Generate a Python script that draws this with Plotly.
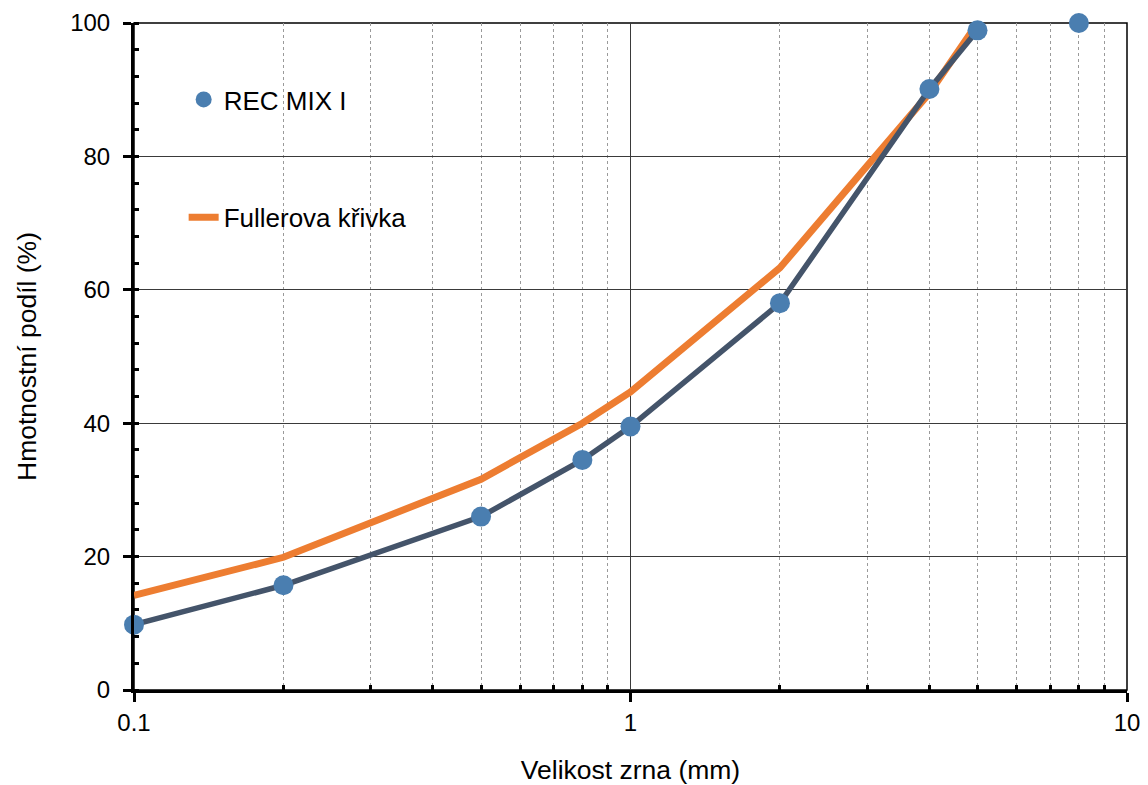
import plotly.graph_objects as go

# grain sizes (mm)
sizes_mix = [0.1, 0.2, 0.5, 0.8, 1, 2, 4, 5, 8]
passing_mix = [9.8, 15.7, 26.0, 34.5, 39.5, 58.0, 90.1, 98.9, 100.0]

sizes_fuller = [0.1, 0.2, 0.5, 0.8, 1, 2, 4, 5]
passing_fuller = [14.2, 19.9, 31.6, 40.0, 44.7, 63.3, 89.5, 100.0]

n_line = 8  # REC MIX I line is drawn up to 5 mm only

FONT = "Liberation Sans, Arial, sans-serif"

fig = go.Figure()

fig.add_trace(go.Scatter(
    x=sizes_fuller, y=passing_fuller, mode="lines",
    name="Fullerova křivka", line=dict(color="#ED7D31", width=7),
    legendgroup="b", legendrank=2,
))
fig.add_trace(go.Scatter(
    x=sizes_mix[:n_line], y=passing_mix[:n_line], mode="lines",
    line=dict(color="#44546A", width=5.5), showlegend=False,
))
fig.add_trace(go.Scatter(
    x=sizes_mix, y=passing_mix, mode="markers", name="REC MIX I",
    marker=dict(color="#4A7EB0", size=20), legendgroup="a", legendrank=1,
    cliponaxis=False,
))

fig.update_layout(
    width=1140, height=777,
    margin=dict(l=126, r=21, t=15, b=95, autoexpand=False),
    paper_bgcolor="white", plot_bgcolor="white",
    font=dict(family=FONT, size=24, color="black"),
    showlegend=True,
    legend=dict(
        x=0.05, y=0.9205, xanchor="left", yanchor="top",
        bgcolor="rgba(0,0,0,0)", borderwidth=0,
        font=dict(size=26, family=FONT, color="black"),
        tracegroupgap=81,
    ),
    shapes=[
        dict(type="rect", xref="paper", yref="paper",
             x0=(152 - 134) / 993, x1=(428 - 134) / 993,
             y0=(690 - 280) / 667, y1=(690 - 39) / 667,
             fillcolor="white", line=dict(width=0), layer="between"),
        dict(type="rect", xref="paper", yref="paper", x0=0, x1=1, y0=0, y1=1,
             line=dict(color="black", width=1.5), layer="between"),
    ],
)

fig.update_xaxes(
    type="log", range=[-1, 1], automargin=False,
    tickvals=[0.1, 1, 10], ticktext=["0.1", "1", "10"],
    showline=True, linecolor="black", linewidth=3,
    ticks="outside", ticklen=9, tickwidth=3, tickcolor="black",
    showgrid=True, gridcolor="#3a3a3a", gridwidth=1,
    zeroline=False,
    minor=dict(tickvals=[0.2, 0.3, 0.4, 0.5, 0.6, 0.7, 0.8, 0.9,
                         2, 3, 4, 5, 6, 7, 8, 9],
               ticks="inside", ticklen=5, tickwidth=3, tickcolor="black",
               showgrid=True, gridcolor="#9a9a9a", griddash="dot", gridwidth=1),
    title=dict(text="Velikost zrna (mm)", font=dict(size=26.5, family=FONT), standoff=26),
    tickfont=dict(size=24, family=FONT),
)
fig.update_yaxes(
    range=[0, 100], dtick=20, automargin=False,
    showline=True, linecolor="black", linewidth=3,
    ticks="outside", ticklen=8, tickwidth=3, tickcolor="black",
    ticklabelstandoff=8,
    showgrid=True, gridcolor="#3a3a3a", gridwidth=1,
    zeroline=False,
    minor=dict(dtick=4, ticks="inside", ticklen=5, tickwidth=3, tickcolor="black",
               showgrid=False),
    title=dict(text="Hmotnostní podíl (%)", font=dict(size=26.5, family=FONT), standoff=26),
    tickfont=dict(size=24, family=FONT),
)

fig.write_html("out.html")
